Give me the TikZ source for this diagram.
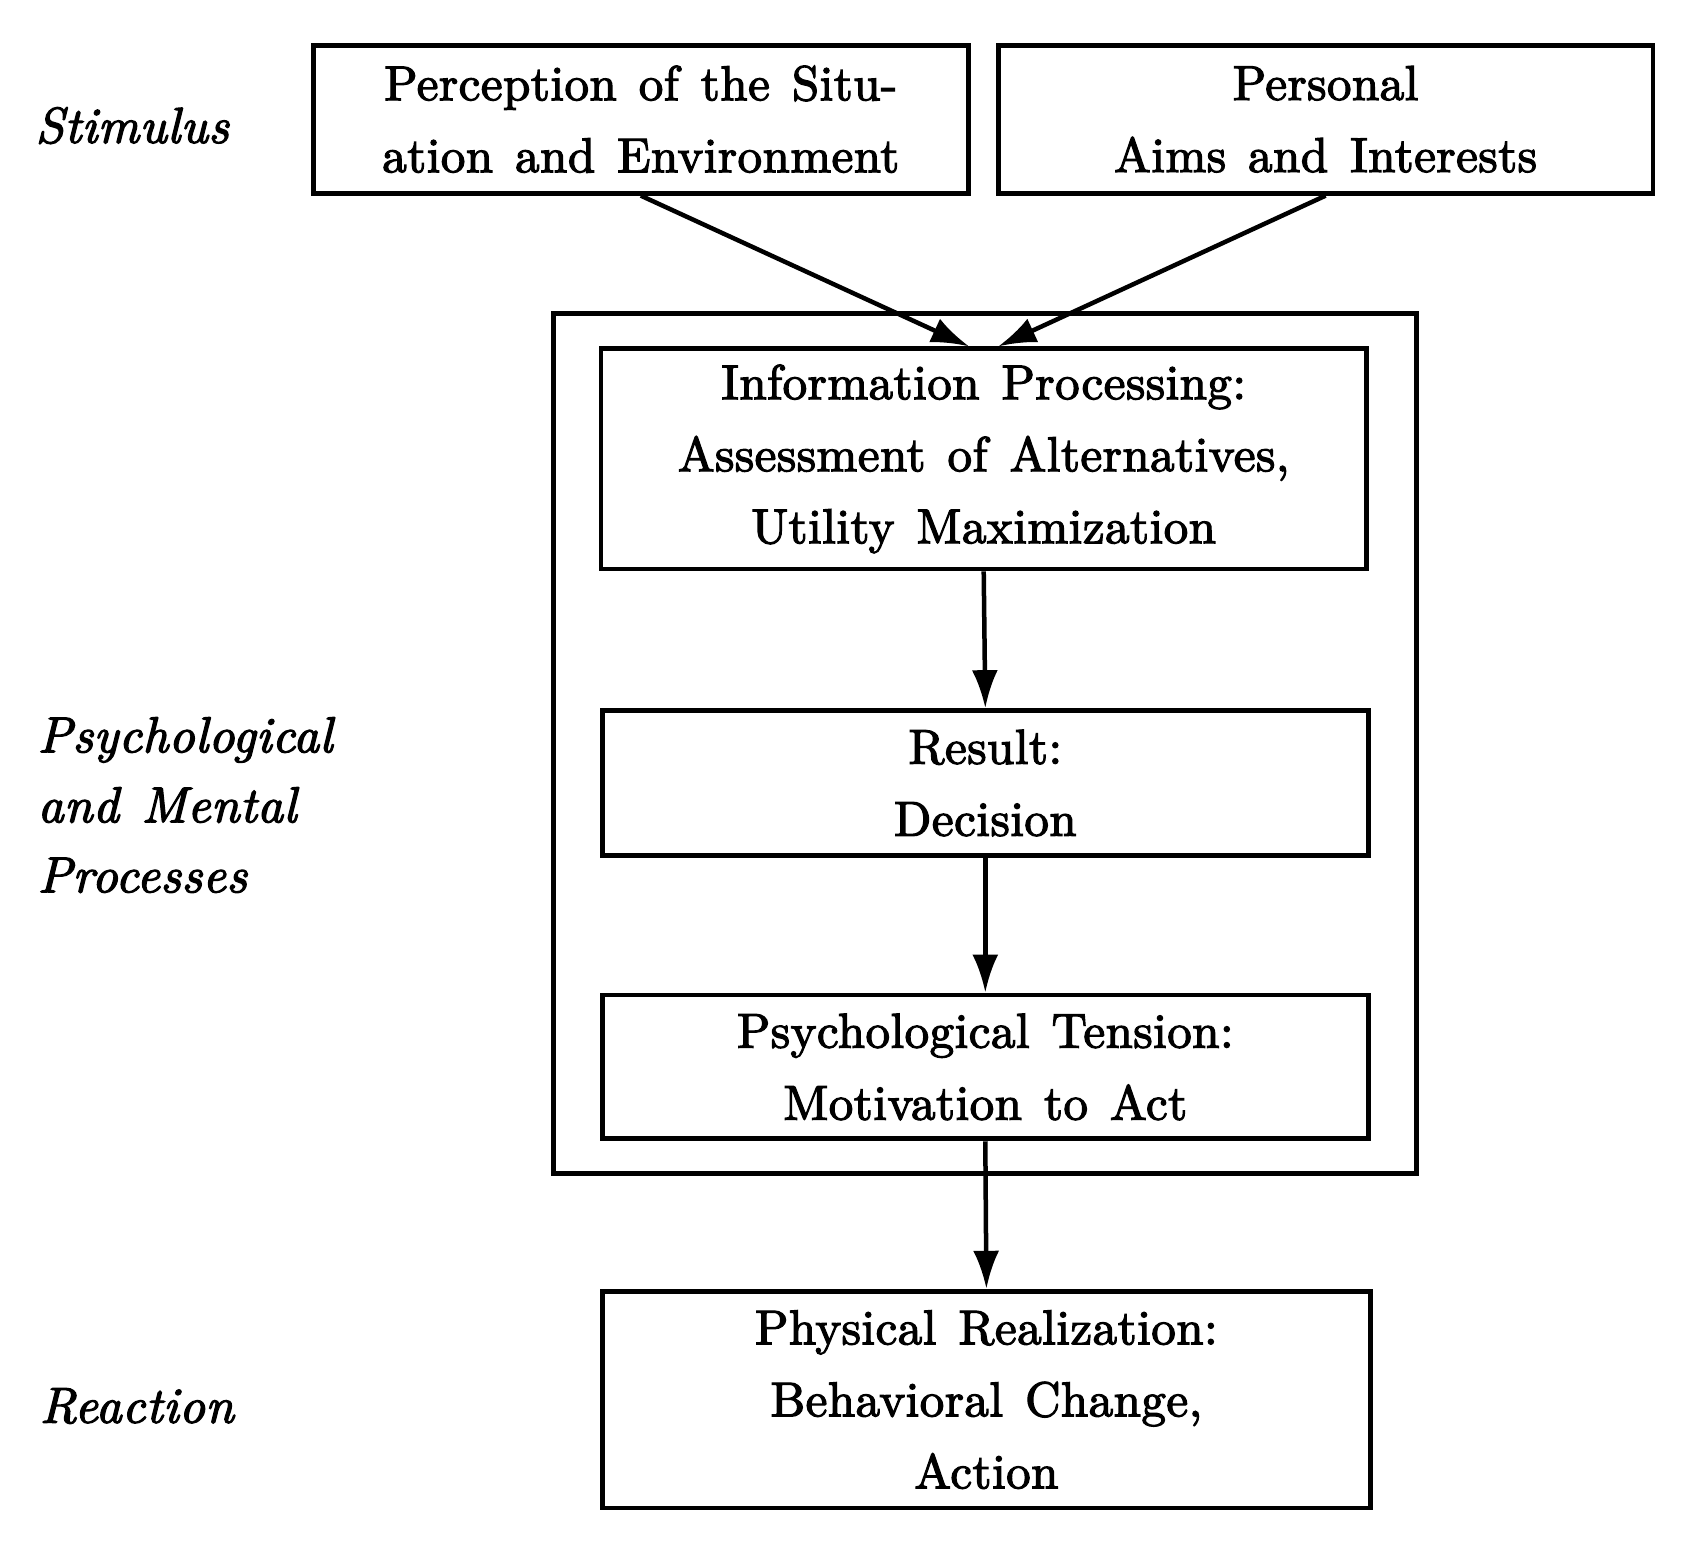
\documentclass[tikz,border=0pt]{standalone}
\usepackage{fontspec}
\setmainfont{lmroman10-regular.otf}[LetterSpace=1, FakeBold=2.5, ItalicFont=lmroman10-italic.otf]
\usetikzlibrary{arrows.meta}
\newcommand{\wspc}{\spaceskip=0.45em plus 0.1em\relax}
\tikzset{
  box/.style={draw, line width=4.8pt, rectangle, inner sep=0pt, align=center,
    font=\fontsize{49}{72}\selectfont\wspc},
  lbl/.style={anchor=west, inner sep=0pt, align=left,
    font=\fontsize{50.5}{70}\selectfont\itshape\wspc},
  arr/.style={line width=4.5pt, -{Latex[length=38pt,width=26pt]}},
}
\begin{document}
\begin{tikzpicture}[x=1pt,y=-1pt]
\useasboundingbox (0,0) rectangle (1683,1555);
\node[box, minimum width=863pt, minimum height=860pt] (outer) at (985.3,743.3) {};
\node[box, minimum width=654.7pt, minimum height=148.1pt] (perc) at (640.8,119.2)
  {Perception of the Situ-\\ation and Environment};
\node[box, minimum width=654.7pt, minimum height=148.1pt] (pers) at (1325.6,119.2)
  {Personal\\Aims and Interests};
\node[box, minimum width=765.3pt, minimum height=220.1pt] (info) at (983.7,458.9)
  {Information Processing:\\Assessment of Alternatives,\\Utility Maximization};
\node[box, minimum width=766.4pt, minimum height=144.9pt] (result) at (985.3,783)
  {Result:\\Decision};
\node[box, minimum width=766.4pt, minimum height=143.9pt] (tension) at (985.3,1066.9)
  {Psychological Tension:\\Motivation to Act};
\node[box, minimum width=768.5pt, minimum height=216.8pt] (phys) at (986.4,1399.6)
  {Physical Realization:\\Behavioral Change,\\Action};
\node[lbl] (stim) at (35.4,125.6) {Stimulus};
\node[lbl] (psy) at (37.6,805) {Psychological\\and Mental\\Processes};
\node[lbl] (reac) at (39.7,1406) {Reaction};
\coordinate (inL) at ([xshift=-14.5pt]info.north);
\coordinate (inR) at ([xshift=14.5pt]info.north);
\draw[arr] (perc.south) -- (inL);
\draw[arr] (pers.south) -- (inR);
\draw[arr] (info.south) -- (result.north);
\draw[arr] (result.south) -- (tension.north);
\draw[arr] (tension.south) -- (phys.north);
\end{tikzpicture}
\end{document}
